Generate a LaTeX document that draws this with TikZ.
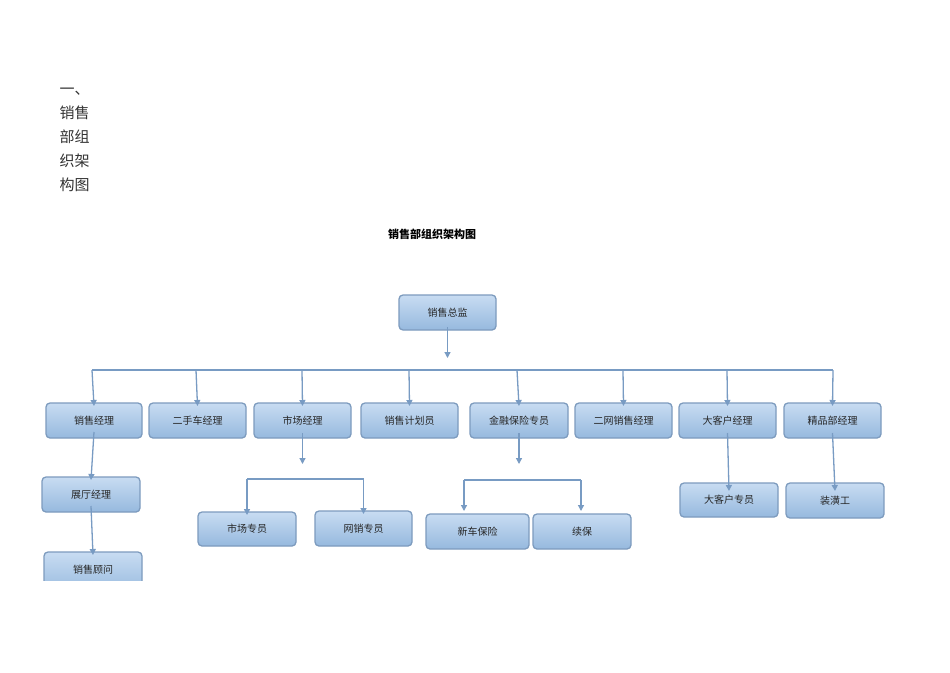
\documentclass[tikz,border=0pt]{standalone}
\usepackage{fontspec}
\newfontfamily\cjk{Noto Sans CJK SC}
\usetikzlibrary{arrows.meta}
\begin{document}
\begin{tikzpicture}[x=1pt,y=-1pt,
 box/.style={draw=boxedge,line width=1.3pt,rounded corners=4pt,top color=boxtop,bottom color=boxbot,font=\cjk\fontsize{10}{12}\selectfont,text=black!85},
 arr/.style={draw=lineblue,line width=1.3pt,-{Triangle[length=6pt,width=6pt]}},
 ln/.style={draw=lineblue,line width=1.3pt}]
\definecolor{boxedge}{RGB}{125,155,190}
\definecolor{boxtop}{RGB}{200,220,242}
\definecolor{boxbot}{RGB}{150,185,222}
\definecolor{lineblue}{RGB}{120,155,195}
\useasboundingbox (0,0) rectangle (950,672);
\fill[white] (0,0) rectangle (950,672);
\node[anchor=west,font=\cjk\fontsize{15}{24}\selectfont,align=left,text=black!80] (side) at (56,140) {一、\\销售\\部组\\织架\\构图};
\node[font=\cjk\bfseries\fontsize{11}{13}\selectfont] (title) at (432,234) {销售部组织架构图};
\newcommand{\bx}[6]{\path[box] (#2,#3) rectangle (#4,#5); \node[font=\cjk\fontsize{10}{12}\selectfont,text=black!85] (#1) at ({(#2+#4)/2},{(#3+#5)/2}) {#6};
 \coordinate (#1t) at ({(#2+#4)/2},#3); \coordinate (#1b) at ({(#2+#4)/2},#5);}
\bx{top}{399}{295}{496}{330}{销售总监}
\bx{a}{46}{403}{142}{438}{销售经理}
\bx{b}{149}{403}{246}{438}{二手车经理}
\bx{c}{254}{403}{351}{438}{市场经理}
\bx{d}{361}{403}{458}{438}{销售计划员}
\bx{e}{470}{403}{568}{438}{金融保险专员}
\bx{f}{575}{403}{672}{438}{二网销售经理}
\bx{g}{679}{403}{776}{438}{大客户经理}
\bx{h}{784}{403}{881}{438}{精品部经理}
\bx{a1}{42}{477}{140}{512}{展厅经理}
\begin{scope}
\clip (0,0) rectangle (950,580);
\bx{a2}{44}{552}{142}{595}{}
\end{scope}
\node[font=\cjk\fontsize{10}{12}\selectfont,text=black!85] (a2l) at (93,570) {销售顾问};
\bx{c1}{198}{512}{296}{546}{市场专员}
\bx{c2}{315}{511}{412}{546}{网销专员}
\bx{e1}{426}{514}{529}{549}{新车保险}
\bx{e2}{533}{514}{631}{549}{续保}
\bx{g1}{680}{483}{778}{517}{大客户专员}
\bx{h1}{786}{483}{884}{518}{装潢工}
% top
\draw[arr] ([yshift=3pt]topb) -- ++(0,31);
\draw[ln] (92,370) -- (833,370);
\foreach \n/\x in {a/92,b/196,c/302,d/409,e/517,f/623,g/727,h/833}
 \draw[arr] (\x,370) -- ([yshift=-3pt]\n t);
\draw[arr] ([yshift=6pt]ab) -- ([yshift=-3pt]a1t);
\draw[arr] ([yshift=6pt]a1b) -- ([yshift=-3pt]a2t);
\draw[arr] ([yshift=5pt]cb) -- ++(0,31);
\draw[ln] (c1t |- 0,479) -- (c2t |- 0,479);
\draw[arr] (c1t |- 0,479) -- ([yshift=-3pt]c1t);
\draw[arr] (c2t |- 0,479) -- ([yshift=-3pt]c2t);
\draw[arr] ([yshift=5pt]eb) -- ++(0,31);
\draw[ln] (464,480) -- (581,480);
\draw[arr] (464,480) -- (464,511);
\draw[arr] (581,480) -- (581,511);
\draw[arr] ([yshift=5pt]gb) -- ([yshift=-8pt]g1t);
\draw[arr] ([yshift=5pt]hb) -- ([yshift=-8pt]h1t);
\end{tikzpicture}
\end{document}
